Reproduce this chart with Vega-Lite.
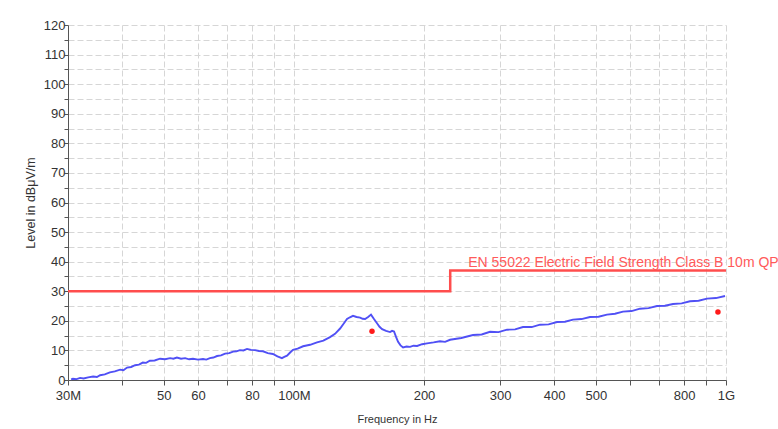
{
  "$schema": "https://vega.github.io/schema/vega-lite/v6.json",
  "width": 658,
  "height": 355,
  "autosize": {"type": "none"},
  "padding": {"left": 68, "top": 25, "right": 52, "bottom": 49},
  "background": "white",
  "config": {
    "view": {"stroke": null},
    "font": "Liberation Sans",
    "axis": {
      "labelFont": "Liberation Sans",
      "titleFont": "Liberation Sans",
      "labelFontSize": 13,
      "labelColor": "#333333",
      "titleFontWeight": "normal",
      "titleColor": "#333333",
      "domainColor": "#555555",
      "tickColor": "#555555",
      "gridColor": "#d6d6d6",
      "gridDash": [6, 3],
      "gridWidth": 1,
      "labelOverlap": false
    }
  },
  "datasets": {
    "trace": [
      {"f": 30.5, "level": 0.2}, {"f": 30.8, "level": 0.4}, {"f": 31.4, "level": 0.3}, {"f": 32.0, "level": 0.7},
      {"f": 32.6, "level": 0.5}, {"f": 33.4, "level": 0.9}, {"f": 34.3, "level": 1.2}, {"f": 35.0, "level": 1.0},
      {"f": 35.6, "level": 1.6}, {"f": 36.5, "level": 1.9}, {"f": 37.5, "level": 2.6}, {"f": 38.5, "level": 2.9},
      {"f": 39.6, "level": 3.5}, {"f": 40.3, "level": 3.3}, {"f": 41.1, "level": 4.2}, {"f": 42.0, "level": 4.4},
      {"f": 42.9, "level": 5.0}, {"f": 43.8, "level": 5.2}, {"f": 44.7, "level": 5.9}, {"f": 45.5, "level": 5.8},
      {"f": 46.4, "level": 6.5}, {"f": 47.6, "level": 6.6}, {"f": 49.0, "level": 7.2}, {"f": 50.3, "level": 7.0},
      {"f": 51.7, "level": 7.4}, {"f": 52.6, "level": 7.2}, {"f": 53.6, "level": 7.6}, {"f": 54.8, "level": 7.2},
      {"f": 56.0, "level": 7.4}, {"f": 57.2, "level": 7.0}, {"f": 58.4, "level": 7.2}, {"f": 60.0, "level": 6.9},
      {"f": 61.6, "level": 7.1}, {"f": 62.7, "level": 6.9}, {"f": 63.9, "level": 7.4}, {"f": 65.1, "level": 7.6},
      {"f": 66.4, "level": 8.1}, {"f": 67.8, "level": 8.3}, {"f": 69.3, "level": 8.9}, {"f": 70.8, "level": 9.1},
      {"f": 72.3, "level": 9.6}, {"f": 73.6, "level": 9.7}, {"f": 75.0, "level": 10.1}, {"f": 76.4, "level": 10.0},
      {"f": 77.9, "level": 10.5}, {"f": 79.6, "level": 10.2}, {"f": 81.3, "level": 10.1}, {"f": 83.0, "level": 9.8},
      {"f": 84.8, "level": 9.7}, {"f": 87.0, "level": 9.1}, {"f": 89.4, "level": 8.8}, {"f": 91.6, "level": 8.0},
      {"f": 93.8, "level": 7.4}, {"f": 95.0, "level": 7.8}, {"f": 96.4, "level": 8.2}, {"f": 98.0, "level": 9.3},
      {"f": 99.5, "level": 10.2}, {"f": 102.0, "level": 10.6}, {"f": 105.0, "level": 11.4}, {"f": 109.0, "level": 11.9},
      {"f": 113.1, "level": 12.7}, {"f": 117.0, "level": 13.3}, {"f": 121.2, "level": 14.5}, {"f": 124.5, "level": 15.6},
      {"f": 127.9, "level": 17.4}, {"f": 130.3, "level": 19.0}, {"f": 132.7, "level": 20.6}, {"f": 134.8, "level": 21.2},
      {"f": 137.0, "level": 21.7}, {"f": 139.6, "level": 21.3}, {"f": 142.3, "level": 21.1}, {"f": 144.2, "level": 20.7},
      {"f": 146.1, "level": 20.6}, {"f": 148.5, "level": 21.3}, {"f": 150.8, "level": 22.1}, {"f": 153.2, "level": 20.6},
      {"f": 155.7, "level": 19.2}, {"f": 157.8, "level": 18.0}, {"f": 160.0, "level": 17.2}, {"f": 163.4, "level": 16.6},
      {"f": 166.9, "level": 16.2}, {"f": 168.7, "level": 16.6}, {"f": 170.5, "level": 16.4}, {"f": 172.4, "level": 14.5},
      {"f": 174.2, "level": 12.9}, {"f": 176.5, "level": 11.7}, {"f": 178.9, "level": 11.0}, {"f": 182.3, "level": 11.3},
      {"f": 185.7, "level": 11.2}, {"f": 189.2, "level": 11.6}, {"f": 192.8, "level": 11.5}, {"f": 198.0, "level": 12.1},
      {"f": 203.3, "level": 12.4}, {"f": 210.5, "level": 12.7}, {"f": 217.8, "level": 13.1}, {"f": 223.8, "level": 12.9},
      {"f": 229.8, "level": 13.6}, {"f": 244.0, "level": 14.2}, {"f": 259.7, "level": 15.2}, {"f": 272.0, "level": 15.4},
      {"f": 284.4, "level": 16.3}, {"f": 297.5, "level": 16.2}, {"f": 311.3, "level": 17.0}, {"f": 325.0, "level": 17.1},
      {"f": 338.9, "level": 17.9}, {"f": 355.0, "level": 17.9}, {"f": 371.2, "level": 18.7}, {"f": 388.5, "level": 18.8},
      {"f": 406.4, "level": 19.6}, {"f": 424.0, "level": 19.7}, {"f": 442.6, "level": 20.4}, {"f": 463.0, "level": 20.6},
      {"f": 484.4, "level": 21.3}, {"f": 507.0, "level": 21.4}, {"f": 530.3, "level": 22.1}, {"f": 553.5, "level": 22.4},
      {"f": 577.5, "level": 23.1}, {"f": 604.5, "level": 23.3}, {"f": 632.4, "level": 24.1}, {"f": 662.0, "level": 24.3},
      {"f": 692.3, "level": 25.0}, {"f": 722.0, "level": 25.1}, {"f": 753.9, "level": 25.7}, {"f": 789.5, "level": 25.9},
      {"f": 825.5, "level": 26.6}, {"f": 864.0, "level": 26.8}, {"f": 903.6, "level": 27.5}, {"f": 948.0, "level": 27.7},
      {"f": 994.8, "level": 28.4}
    ],
    "limit": [
      {"f": 30, "level": 30},
      {"f": 230, "level": 37},
      {"f": 1000, "level": 37}
    ],
    "qp": [
      {"f": 151.6, "level": 16.5},
      {"f": 958, "level": 23.0}
    ],
    "limitLabel": [
      {"f": 230, "level": 37, "label": "EN 55022 Electric Field Strength Class B 10m QP"}
    ]
  },
  "encoding": {
    "x": {
      "field": "f", "type": "quantitative",
      "scale": {"type": "log", "domain": [30, 1000], "nice": false},
      "axis": {
        "title": "Frequency in Hz",
        "titleFontSize": 11,
        "values": [30, 40, 50, 60, 70, 80, 90, 100, 200, 300, 400, 500, 600, 700, 800, 900, 1000],
        "labelExpr": "datum.value == 30 ? '30M' : datum.value == 100 ? '100M' : datum.value == 1000 ? '1G' : indexof([50, 60, 80, 200, 300, 400, 500, 800], datum.value) >= 0 ? datum.value + '' : ''",
        "labelOverlap": false,
        "labelFlush": false,
        "tickSize": 5,
        "labelPadding": 4,
        "titlePadding": 11,
        "grid": true
      }
    },
    "y": {
      "field": "level", "type": "quantitative",
      "scale": {"domain": [0, 120], "nice": false},
      "axis": {
        "title": "Level in dBμV/m",
        "titleFontSize": 12.5,
        "values": [0, 5, 10, 15, 20, 25, 30, 35, 40, 45, 50, 55, 60, 65, 70, 75, 80, 85, 90, 95, 100, 105, 110, 115, 120],
        "labelExpr": "datum.value % 10 == 0 ? format(datum.value, 'd') : ''",
        "labelOverlap": false,
        "labelFlush": false,
        "tickSize": 4,
        "labelPadding": -1,
        "titlePadding": 6,
        "grid": true
      }
    }
  },
  "layer": [
    {
      "data": {"name": "trace"},
      "mark": {"type": "line", "color": "#5050f5", "strokeWidth": 1.9}
    },
    {
      "data": {"name": "limit"},
      "mark": {"type": "line", "color": "#ff4d4d", "strokeWidth": 2.5, "interpolate": "step-after"}
    },
    {
      "data": {"name": "qp"},
      "mark": {"type": "circle", "color": "#ff1a1a", "opacity": 1, "size": 30}
    },
    {
      "data": {"name": "limitLabel"},
      "mark": {"type": "text", "color": "#ff5a5a", "align": "left", "baseline": "alphabetic", "dx": 18, "dy": -4, "fontSize": 14, "font": "Liberation Sans"},
      "encoding": {
        "text": {"field": "label"}
      }
    }
  ]
}
